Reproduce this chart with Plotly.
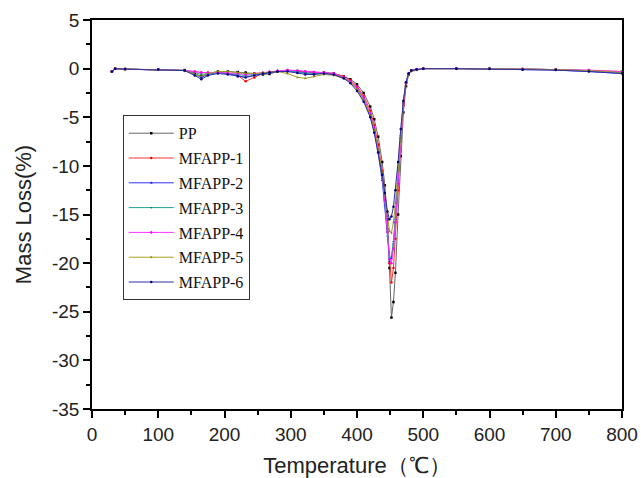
import plotly.graph_objects as go

T = [30, 35, 50, 100, 140, 155, 165, 175, 190, 205,
     220, 232, 245, 258, 268, 280, 295, 310, 322, 335,
     350, 365, 380, 390, 400, 410, 420, 426, 432, 438,
     442, 446, 449, 452, 455, 458, 462, 466, 470, 474,
     478, 482, 490, 500, 550, 600, 650, 700, 750, 800]

PP = [-0.3, 0, -0.05, -0.1, -0.15, -0.5, -0.8, -0.5, -0.3, -0.3,
      -0.35, -0.4, -0.5, -0.6, -0.55, -0.3, -0.2, -0.25, -0.35, -0.4,
      -0.4, -0.5, -0.8, -1.1, -1.6, -2.5, -3.9, -5.2, -7.0, -9.6,
      -12.0, -15.5, -20.5, -25.6, -24.0, -21.0, -15.0, -9.0, -4.5, -1.8,
      -0.6, -0.2, -0.1, 0, 0, 0, -0.05, -0.1, -0.2, -0.35]
MFAPP1 = [-0.3, 0, -0.05, -0.1, -0.2, -0.3, -0.4, -0.4, -0.4, -0.5,
          -0.7, -1.3, -0.9, -0.5, -0.4, -0.3, -0.2, -0.25, -0.3, -0.35,
          -0.4, -0.5, -0.8, -1.2, -1.8, -2.8, -4.3, -5.8, -7.8, -10.5,
          -13.0, -16.5, -20.0, -22.0, -20.5, -17.5, -12.5, -7.5, -3.8, -1.5,
          -0.5, -0.2, -0.1, 0, 0, 0, -0.05, -0.1, -0.2, -0.3]
MFAPP2 = [-0.3, 0, -0.05, -0.1, -0.2, -0.6, -0.9, -0.6, -0.4, -0.5,
          -0.7, -0.9, -0.7, -0.5, -0.4, -0.3, -0.2, -0.3, -0.45, -0.5,
          -0.5, -0.6, -1.0, -1.4, -2.1, -3.2, -4.9, -6.5, -8.7, -11.5,
          -14.0, -17.2, -19.8, -19.5, -18.0, -15.5, -11.5, -7.0, -3.5, -1.4,
          -0.5, -0.2, -0.1, 0, 0, -0.05, -0.1, -0.15, -0.3, -0.5]
MFAPP3 = [-0.3, 0, -0.05, -0.1, -0.2, -0.4, -0.6, -0.5, -0.4, -0.5,
          -0.6, -0.7, -0.6, -0.5, -0.4, -0.3, -0.2, -0.35, -0.5, -0.55,
          -0.5, -0.6, -1.0, -1.4, -2.0, -3.1, -4.8, -6.3, -8.5, -11.3,
          -13.7, -16.8, -19.5, -19.3, -17.8, -15.3, -11.3, -6.9, -3.4, -1.4,
          -0.5, -0.2, -0.1, 0, 0, 0, -0.05, -0.1, -0.2, -0.4]
MFAPP4 = [-0.3, 0, -0.05, -0.1, -0.2, -0.3, -0.4, -0.4, -0.4, -0.45,
          -0.5, -0.6, -0.5, -0.4, -0.3, -0.2, -0.15, -0.2, -0.3, -0.35,
          -0.4, -0.5, -0.9, -1.3, -1.9, -3.0, -4.6, -6.1, -8.3, -11.0,
          -13.5, -16.8, -19.6, -20.0, -18.5, -15.8, -11.8, -7.2, -3.6, -1.5,
          -0.5, -0.2, -0.1, 0, 0, 0, -0.05, -0.1, -0.15, -0.3]
MFAPP5 = [-0.3, 0, -0.05, -0.1, -0.2, -0.6, -0.8, -0.5, -0.3, -0.3,
          -0.4, -0.5, -0.5, -0.4, -0.35, -0.3, -0.5, -0.9, -1.0, -0.8,
          -0.6, -0.7, -1.0, -1.4, -2.1, -3.2, -4.8, -6.3, -8.3, -10.7,
          -12.8, -15.2, -16.7, -16.9, -15.8, -13.8, -10.5, -6.6, -3.4, -1.5,
          -0.6, -0.3, -0.15, 0, 0, 0, -0.05, -0.1, -0.2, -0.4]
MFAPP6 = [-0.3, 0, -0.05, -0.1, -0.2, -0.7, -1.1, -0.7, -0.5, -0.6,
          -0.8, -0.9, -0.7, -0.5, -0.4, -0.3, -0.3, -0.45, -0.6, -0.6,
          -0.5, -0.6, -1.0, -1.5, -2.3, -3.4, -5.0, -6.6, -8.6, -10.9,
          -12.8, -14.7, -15.5, -15.2, -14.2, -12.5, -9.6, -6.2, -3.3, -1.4,
          -0.5, -0.2, -0.1, 0, 0, -0.05, -0.1, -0.15, -0.3, -0.5]

x_ticks = [0, 100, 200, 300, 400, 500, 600, 700, 800]
y_ticks = [5, 0, -5, -10, -15, -20, -25, -30, -35]

names = ["PP", "MFAPP-1", "MFAPP-2", "MFAPP-3", "MFAPP-4", "MFAPP-5", "MFAPP-6"]
series = [PP, MFAPP1, MFAPP2, MFAPP3, MFAPP4, MFAPP5, MFAPP6]
colors = ["#666666", "#ff3030", "#3030ff", "#20a0a0", "#ff30ff", "#a0a020", "#3030a0"]
marker_colors = ["#000000", "#ff0000", "#0000ff", "#008080", "#ff00ff", "#808000", "#000080"]
symbols = ["square", "circle", "triangle-up", "triangle-down", "diamond", "triangle-right", "circle"]

fig = go.Figure()
for name, ys, c, mc, s in zip(names, series, colors, marker_colors, symbols):
    fig.add_trace(go.Scatter(
        x=T, y=ys, name=name, mode="lines+markers", legendgroup=name,
        line=dict(color=c, width=1),
        marker=dict(symbol=s, size=2.5, color=mc),
    ))

axis_common = dict(
    showline=True, linecolor="black", linewidth=1.5, mirror=True,
    ticks="outside", ticklen=7, tickwidth=1.5, tickcolor="black",
    showgrid=False, zeroline=False, automargin=False,
    tickfont=dict(family="Liberation Sans, Arial", size=19, color="#222"),
)

fig.update_xaxes(
    range=[0, 800], tickvals=x_ticks, ticktext=[str(v) for v in x_ticks],
    minor=dict(dtick=50, ticks="outside", ticklen=4, tickwidth=1.5, tickcolor="black"),
    title=dict(text="Temperature（℃）", standoff=14,
               font=dict(family="Liberation Sans, Arial", size=22, color="#222")),
    **axis_common,
)
fig.update_yaxes(
    range=[-35, 5], tickvals=y_ticks, ticktext=[str(v) for v in y_ticks],
    minor=dict(dtick=2.5, ticks="outside", ticklen=4, tickwidth=1.5, tickcolor="black"),
    title=dict(text="Mass Loss(%)", standoff=14,
               font=dict(family="Liberation Sans, Arial", size=22, color="#222")),
    **axis_common,
)

fig.update_layout(
    width=641, height=478,
    margin=dict(l=92, r=19, t=20, b=69),
    plot_bgcolor="white", paper_bgcolor="white",
    legend=dict(
        x=0.058, y=0.755, xanchor="left", yanchor="top",
        bgcolor="white", bordercolor="#333", borderwidth=1,
        font=dict(family="Liberation Serif, Times New Roman", size=16, color="#111"),
        tracegroupgap=1, itemwidth=45,
    ),
)

fig.write_html("out.html")
